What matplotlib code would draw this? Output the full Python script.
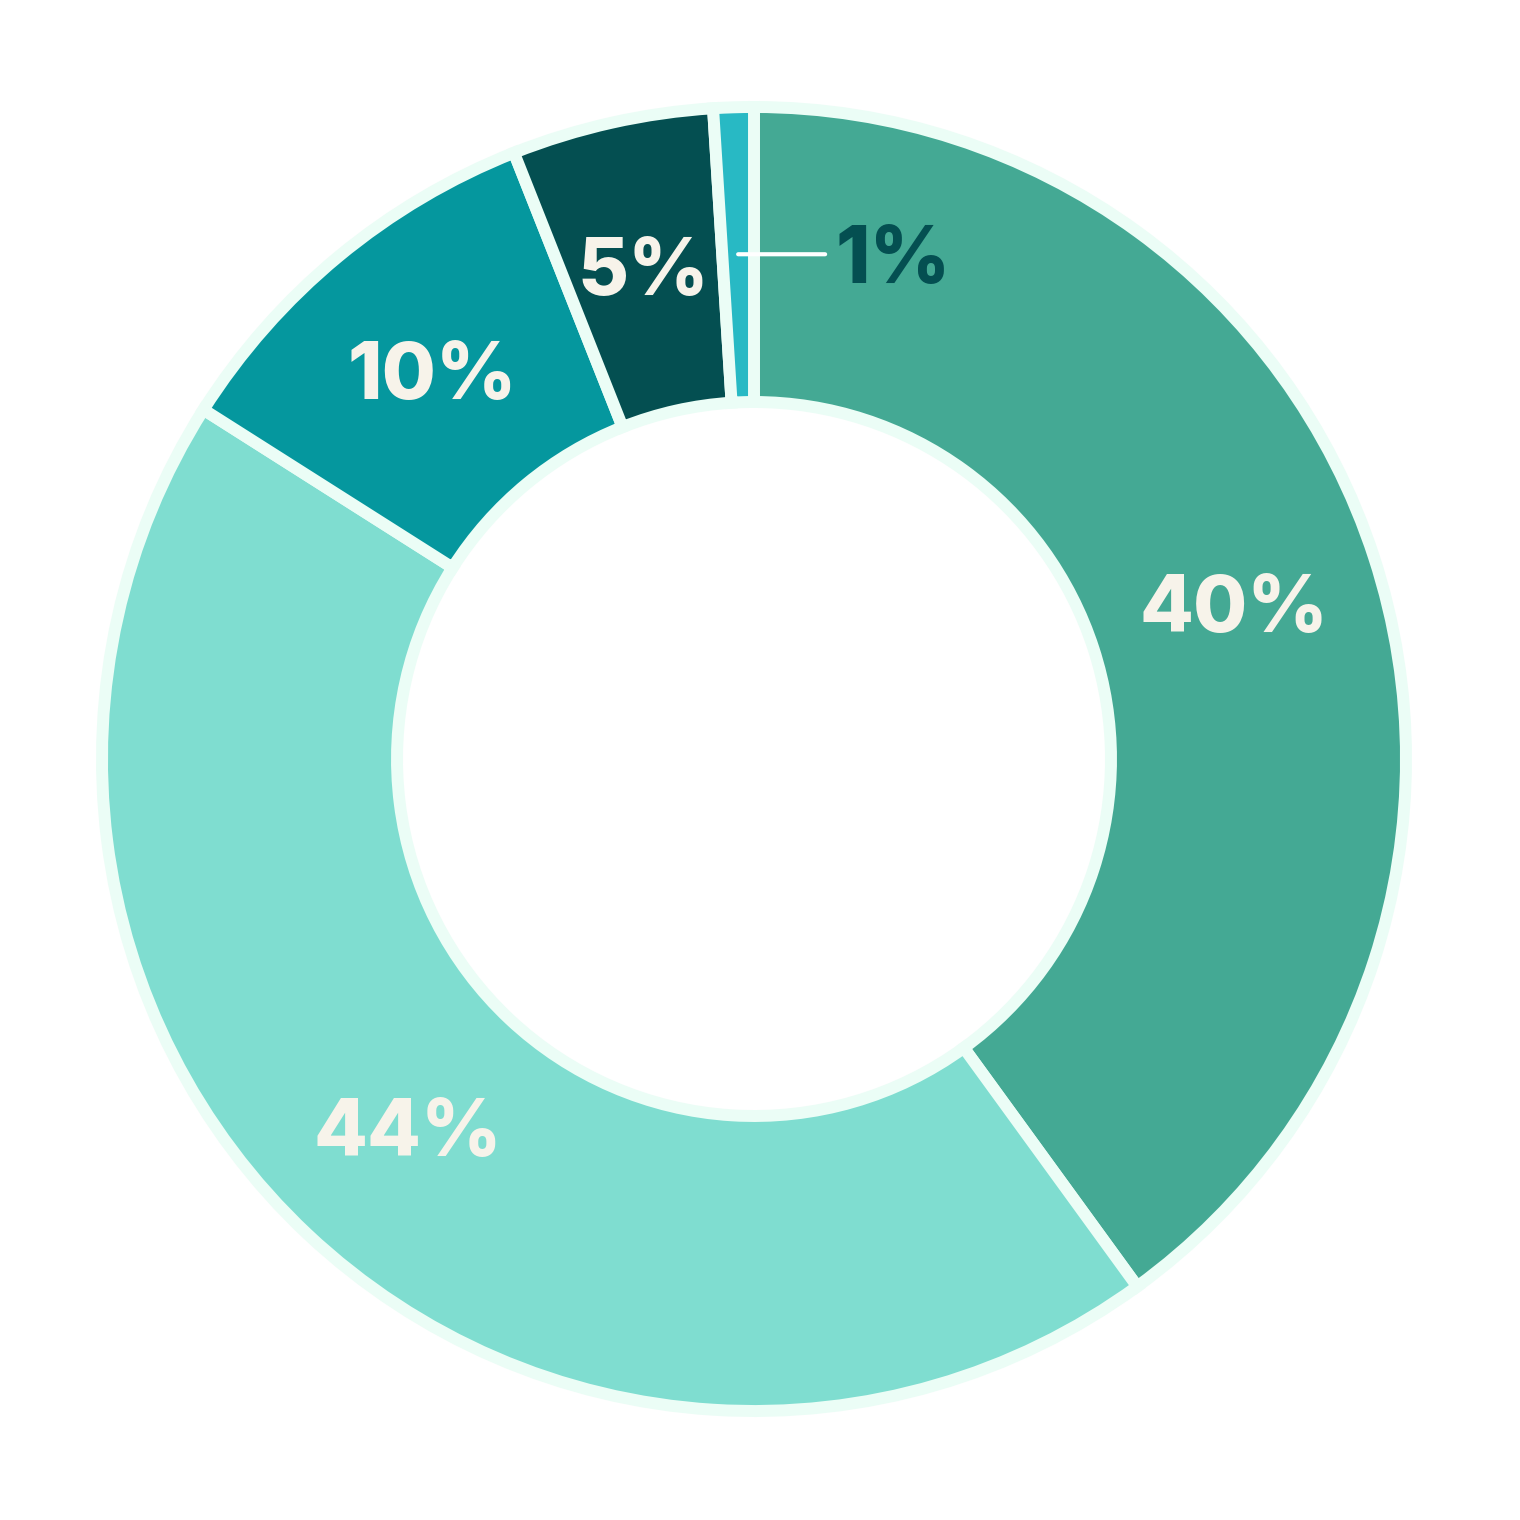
import numpy as np
import matplotlib
matplotlib.use("Agg")
import matplotlib.pyplot as plt

labels = ["40%", "44%", "10%", "5%", "1%"]
values = [40, 44, 10, 5, 1]
colors = ["#44a994", "#7fddd0", "#05979e", "#044f51", "#28b9c4"]
edge_color = "#ebfdf6"
text_color = "#f7f3ea"
dark_text = "#044f51"

W = H = 1520
fig = plt.figure(figsize=(15.2, 15.2), dpi=100)
ax = fig.add_axes([0, 0, 1, 1])
cx, cy = 754, 759

R = 652
w = 295
wedges, _ = ax.pie(values, colors=colors, startangle=90, counterclock=False,
                   radius=R, wedgeprops=dict(width=w, edgecolor=edge_color, linewidth=8.6),
                   center=(0, 0))
ax.set_xlim(-cx, W - cx)
ax.set_ylim(-(H - cy), cy)
ax.set_aspect("equal")
ax.axis("off")

font = dict(family=["Inter", "DejaVu Sans"], fontweight="heavy", fontsize=56.5)
rl = 505
for wd, lab in zip(wedges, labels):
    mid = np.deg2rad((wd.theta1 + wd.theta2) / 2)
    x, y = rl * np.cos(mid), rl * np.sin(mid)
    if lab == "1%":
        ax.annotate("", xy=(x, y), xytext=(x + 87, y),
                    arrowprops=dict(arrowstyle="-", color="white", lw=3, shrinkA=0, shrinkB=0))
        ax.text(x + 97, y, lab, color=dark_text, ha="left", va="center_baseline", **font)
    else:
        ax.text(x, y, lab, color=text_color, ha="center", va="center_baseline", **font)

fig.savefig("out.png", dpi=100, facecolor="white")
